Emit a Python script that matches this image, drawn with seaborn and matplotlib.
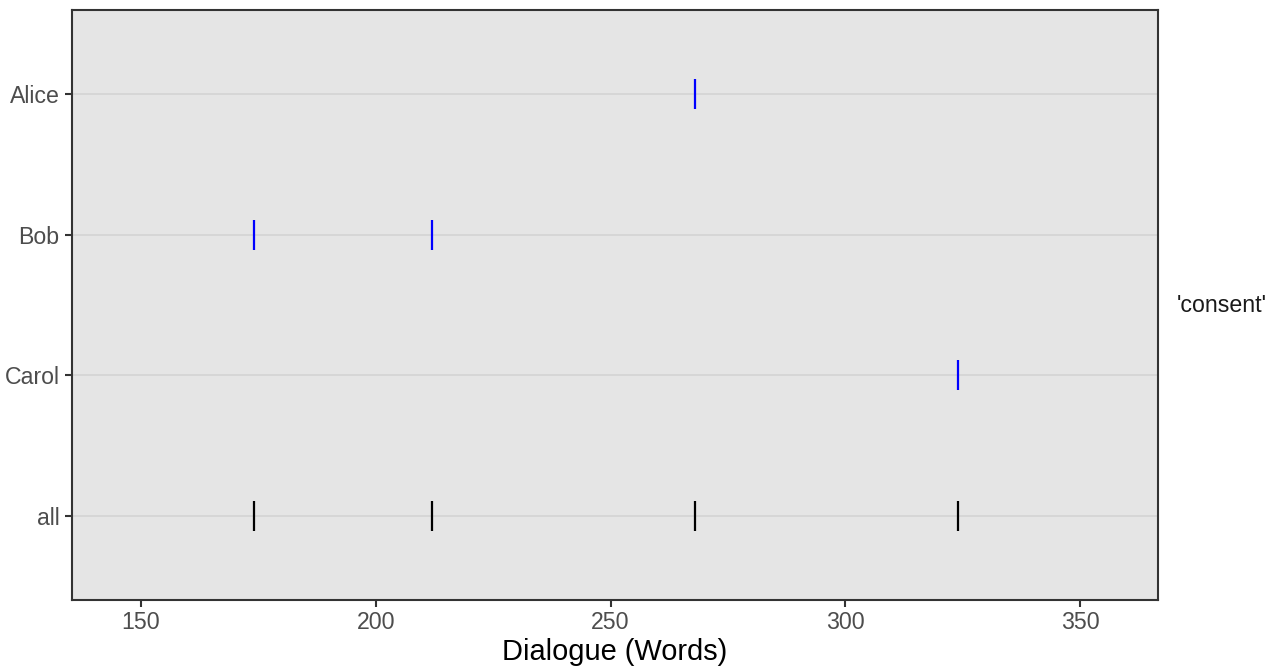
import matplotlib
matplotlib.use("Agg")
import matplotlib.pyplot as plt
import seaborn as sns
import pandas as pd

categories = ["Alice", "Bob", "Carol", "all"]
alice_words = [268]
bob_words = [174, 212]
carol_words = [324]
all_words = [174, 212, 268, 324]
x_ticks = [150, 200, 250, 300, 350]
facet_label = "'consent'"
x_label = "Dialogue (Words)"

rows = []
for name, vals in zip(categories, [alice_words, bob_words, carol_words, all_words]):
    for v in vals:
        rows.append({"speaker": name, "words": v, "group": "all" if name == "all" else "person"})
df = pd.DataFrame(rows)

sns.set_theme(style="white")
plt.rcParams['font.family'] = ['Liberation Sans', 'DejaVu Sans']

fig = plt.figure(figsize=(12.7, 6.72), dpi=100)
ax = fig.add_axes([72/1270, 1-600/672, (1158-72)/1270, (600-10)/672])
ax.set_facecolor("#E5E5E5")

ypos = {c: i for i, c in enumerate(categories)}
df["y"] = df["speaker"].map(ypos)

for i in range(len(categories)):
    ax.axhline(i, color="#D6D6D6", lw=1.4, zorder=0)

sns.scatterplot(data=df, x="words", y="y", hue="group",
                palette={"person": "#0000FF", "all": "#000000"},
                marker="|", s=470, linewidth=1.6, legend=False, ax=ax, zorder=3)

ax.set_xlim(135.3, 366.6)
ax.set_ylim(len(categories) - 0.4, -0.6)
ax.set_yticks(range(len(categories)))
ax.set_yticklabels(categories)
ax.set_xticks(x_ticks)
ax.set_xticklabels([str(t) for t in x_ticks])
ax.grid(False)
ax.tick_params(axis="both", length=5, width=1.5, color="#333333",
               labelcolor="#4D4D4D", labelsize=16.7, pad=4)
ax.tick_params(axis="x", bottom=True, pad=3)
ax.tick_params(axis="y", left=True)
for sp in ax.spines.values():
    sp.set_visible(True)
    sp.set_color("#333333")
    sp.set_linewidth(1.5)
ax.set_xlabel(x_label, fontsize=20.9, color="black", labelpad=3)
ax.set_ylabel("")

fig.text(1222/1270, 1-305/672, facet_label, ha="center", va="center",
         fontsize=16.7, color="#1A1A1A")

fig.savefig("out.png", dpi=100)
